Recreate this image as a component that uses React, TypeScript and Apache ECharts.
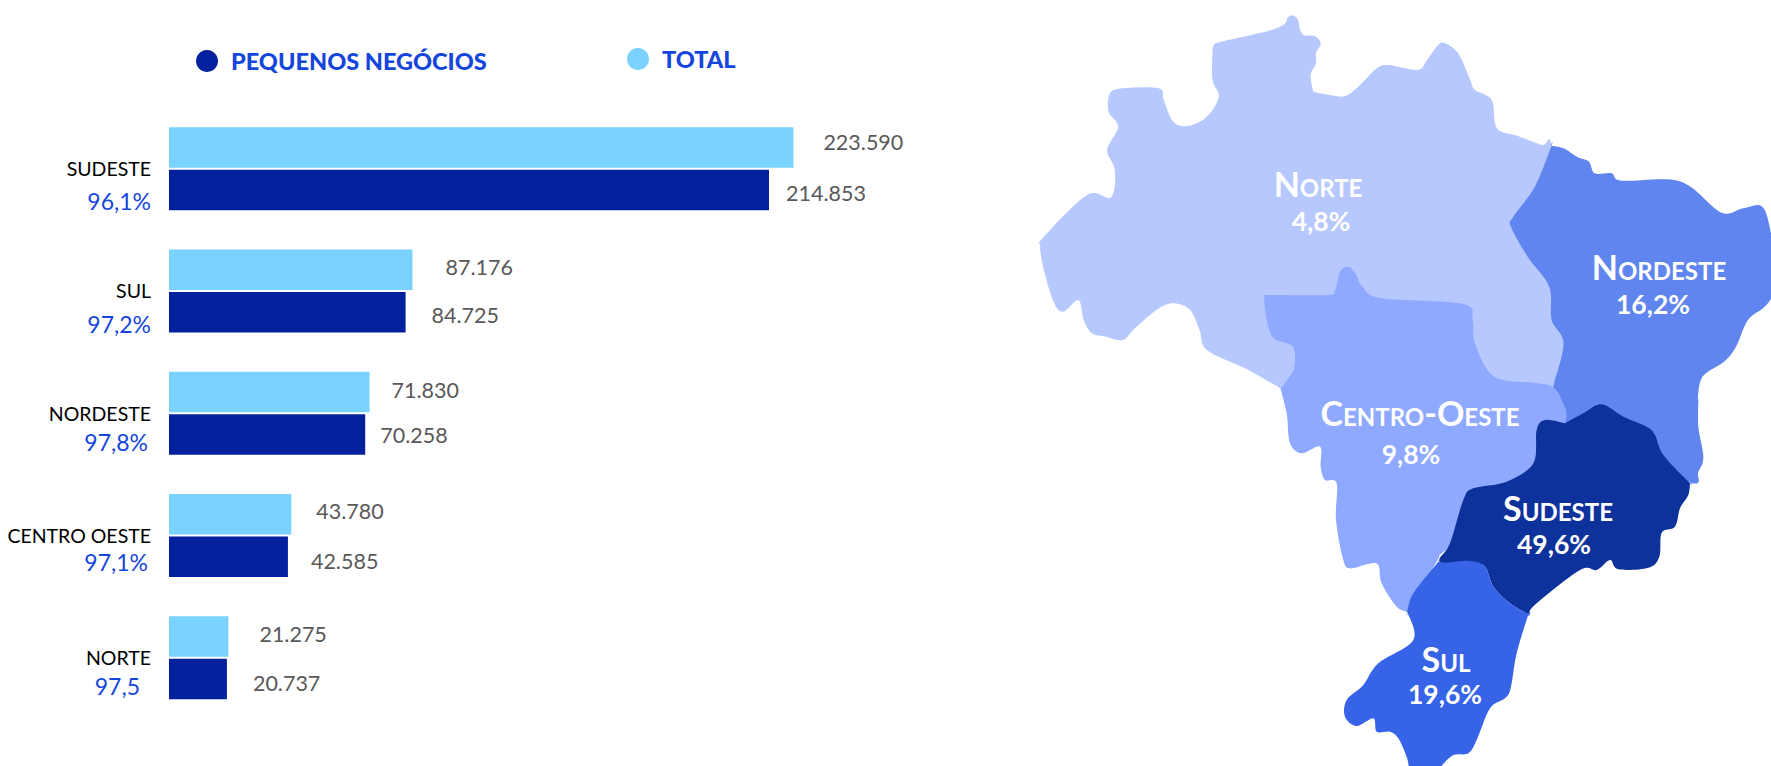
import React, { useEffect, useRef } from "react";
import * as echarts from "echarts";

const categories = ["SUDESTE", "SUL", "NORDESTE", "CENTRO OESTE", "NORTE"];
const totalValues = [223590, 87176, 71830, 43780, 21275];
const smallBusinessValues = [214853, 84725, 70258, 42585, 20737];
const shareLabels = ["96,1%", "97,2%", "97,8%", "97,1%", "97,5"];
const regionNames = ["Norte", "Nordeste", "Centro-Oeste", "Sudeste", "Sul"];
const regionShares = ["4,8%", "16,2%", "9,8%", "49,6%", "19,6%"];

// label placement
const totalLabelOffsets = [[30, -5], [33, -3], [22, -2], [25, -3], [31, -3]];
const smallLabelOffsets = [[17, 3], [26, 3], [15, 0], [23, 4], [26, 4]];
const sharePlacement = [[151, 32], [151, 33], [148, 29], [148, 26], [140, 28]];

const FONT = "Lato";
const C = { total: "#79D2FF", small: "#03219C", blue: "#1546DC", gray: "#595959" };

type P = [number, number];
const z3 = (a: number[]): P[] => {
  const o: P[] = [];
  for (let i = 0; i < a.length; i += 2) o.push([1020 + a[i] / 2.088, a[i + 1] / 3]);
  return o;
};
const z4 = (a: number[]): P[] => {
  const o: P[] = [];
  for (let i = 0; i < a.length; i += 2) o.push([1250 + a[i] / 3, 380 + a[i + 1] / 3]);
  return o;
};

const norteShape = z3([
  405,135, 420,125, 520,92, 552,72, 558,55, 568,46, 580,58, 584,85, 592,105, 615,108, 628,130, 618,160, 618,190, 607,225, 612,275, 612,275,
  650,286, 680,288, 710,255, 745,205, 770,195, 830,210, 850,180, 870,140, 885,128, 915,160, 940,240, 950,270, 985,300, 996,385, 1040,408, 1090,435, 1110,437,
  1130,700, 1140,1150, 1112,1165, 800,1170, 570,1175, 545,1165, 470,1105, 390,1050, 375,990, 355,930, 320,910, 285,930, 240,985, 215,1020, 180,1010, 150,1000, 133,960, 122,900,
  90,935, 70,905, 50,810, 42,740, 50,710, 140,585, 190,592, 198,510, 182,450, 205,380, 185,335, 188,280, 215,265, 290,265, 300,300, 320,365, 350,378, 390,350, 415,290, 402,240, 402,160,
]);

const nordesteShape = [
  ...z3([1110,437, 1110,437, 1135,445, 1165,472, 1188,485, 1200,520, 1235,520, 1255,542, 1350,538, 1400,560, 1465,638, 1510,625, 1550,620, 1568,700, 1575,800, 1572,880, 1555,920, 1520,960, 1495,1040, 1470,1085, 1425,1130, 1415,1200]),
  ...z4([1345,60, 1345,140, 1360,230, 1345,275, 1322,308, 1100,200, 900,100, 910,20]),
  ...z3([1135,1030, 1110,960, 1105,860, 1060,770, 1025,680, 1030,650, 1075,560]),
];

const centroOesteShape = [
  ...z3([515,885, 640,885, 658,870, 668,815, 685,800, 700,820, 715,860, 755,895, 925,912, 945,960, 950,1030, 990,1130, 1075,1148, 1112,1160]),
  ...z4([935,60, 945,130, 860,300, 600,500, 560,545, 475,695, 475,695, 440,680, 395,610, 385,555, 355,552, 300,565, 280,540, 258,420, 260,310, 225,300, 212,260, 210,200, 155,220, 120,190, 110,100, 90,20]),
  ...z3([545,1165, 565,1125, 573,1100, 570,1040, 530,1015, 515,960, 510,890]),
];

const sudesteShape = z4([
  945,130, 945,130, 1000,100, 1055,73, 1120,110, 1190,140, 1215,165, 1240,225, 1320,310, 1320,310, 1315,345, 1290,385, 1275,440, 1235,458, 1228,530, 1195,563, 1105,568, 1080,540, 1040,570, 990,570, 860,670, 835,703, 835,703,
  780,670, 730,620, 705,560, 660,550, 590,552, 568,538, 600,490, 640,360, 670,325, 770,305, 850,250, 860,150, 885,120,
]);

const sulShape = z4([
  565,545, 565,545, 590,548, 660,543, 705,560, 730,620, 780,670, 835,703, 835,703, 800,820, 782,925, 765,955, 720,985, 680,1080, 655,1120, 610,1125, 575,1158, 560,1190, 490,1190, 470,1130, 445,1075, 420,1055, 380,1055, 370,1015, 320,1038, 285,1010, 290,960, 340,915, 385,850, 490,780, 472,695, 472,695, 490,640,
]);

const regionShapes = [norteShape, nordesteShape, centroOesteShape, sudesteShape, sulShape];
const regionColors = ["#B7C8FF", "#6085EE", "#8EA9FF", "#0E329C", "#3763E6"];
const regionNamePos = [[1318, 183], [1659, 266], [1420, 412], [1558, 507.5], [1446, 658]];
const regionSharePos = [[1321, 221], [1653, 304], [1411, 454], [1554, 543.5], [1445, 694]];

function toPath(pts: P[]): string {
  const n = pts.length;
  const f = (v: number) => v.toFixed(2);
  let d = `M${f(pts[0][0])} ${f(pts[0][1])}`;
  for (let i = 0; i < n; i++) {
    const p0 = pts[(i - 1 + n) % n], p1 = pts[i], p2 = pts[(i + 1) % n], p3 = pts[(i + 2) % n];
    const c1x = p1[0] + (p2[0] - p0[0]) / 6, c1y = p1[1] + (p2[1] - p0[1]) / 6;
    const c2x = p2[0] - (p3[0] - p1[0]) / 6, c2y = p2[1] - (p3[1] - p1[1]) / 6;
    d += `C${f(c1x)} ${f(c1y)} ${f(c2x)} ${f(c2y)} ${f(p2[0])} ${f(p2[1])}`;
  }
  return d + "Z";
}

regionShapes.forEach((s, i) => {
  echarts.graphic.registerShape("region" + i, echarts.graphic.extendPath(toPath(s) as any, {}) as any);
});

const fmt = (v: number) => String(v).replace(/\B(?=(\d{3})+$)/g, ".");

export default function App() {
  const ref = useRef<HTMLDivElement>(null);
  useEffect(() => {
    const chart = echarts.init(ref.current!, undefined, { renderer: "svg" });
    const barLabel = { show: true, position: "right", distance: 0, color: C.gray, fontFamily: FONT, fontSize: 21.5, formatter: (p: any) => fmt(p.value) };
    const legendText = (pad: number) => ({ color: C.blue, fontFamily: FONT, fontWeight: 900, fontSize: 23.5, padding: [0, 0, 0, pad] });
    chart.setOption({
      animation: false,
      backgroundColor: "#fff",
      legend: [
        { data: ["PEQUENOS NEGÓCIOS"], left: 196, top: 49, icon: "circle", itemWidth: 22, itemHeight: 22, selectedMode: false, padding: [0, 0, 0, 0], textStyle: legendText(8) },
        { data: ["TOTAL"], left: 627, top: 47, icon: "circle", itemWidth: 22, itemHeight: 22, selectedMode: false, padding: [0, 0, 0, 0], textStyle: legendText(8) },
      ],
      grid: { left: 169, top: 107.5, width: 624.4, height: 611.5, containLabel: false },
      xAxis: { type: "value", min: 0, max: 223590, show: false },
      yAxis: {
        type: "category",
        inverse: true,
        data: categories,
        axisLine: { show: false },
        axisTick: { show: false },
        axisLabel: { color: "#000", fontFamily: FONT, fontSize: 19.5, margin: 18 },
      },
      series: [
        {
          name: "TOTAL",
          type: "bar",
          barWidth: 40.5,
          barGap: "5%",
          itemStyle: { color: C.total },
          label: barLabel,
          data: totalValues.map((value, i) => ({ value, label: { offset: totalLabelOffsets[i] } })),
        },
        {
          name: "PEQUENOS NEGÓCIOS",
          type: "bar",
          barWidth: 40.5,
          barGap: "5%",
          itemStyle: { color: C.small },
          label: barLabel,
          data: smallBusinessValues.map((value, i) => ({ value, label: { offset: smallLabelOffsets[i] } })),
        },
        {
          type: "custom",
          silent: true,
          encode: { x: 0, y: 1 },
          data: shareLabels.map((_, i) => [0, i]),
          renderItem: (params: any, api: any) => {
            const i = params.dataIndex;
            const c = api.coord([0, i]);
            return {
              type: "text",
              x: sharePlacement[i][0],
              y: c[1] + sharePlacement[i][1],
              style: { text: shareLabels[i], fill: C.blue, fontFamily: FONT, fontSize: 23, align: "right", verticalAlign: "middle" },
            };
          },
        },
      ],
      graphic: [
        ...regionShapes.map((_, i) => ({ type: "region" + i, x: 0, y: 0, silent: true, style: { fill: regionColors[i] } })),
        ...regionNames.map((t, i) => ({
          type: "text", x: regionNamePos[i][0], y: regionNamePos[i][1], silent: true,
          style: { text: t, fill: "#fff", font: `small-caps 700 34px ${FONT}`, align: "center", verticalAlign: "middle" },
        })),
        ...regionShares.map((t, i) => ({
          type: "text", x: regionSharePos[i][0], y: regionSharePos[i][1], silent: true,
          style: { text: t, fill: "#fff", fontFamily: FONT, fontWeight: 700, fontSize: 26.5, align: "center", verticalAlign: "middle" },
        })),
      ],
    });
    return () => chart.dispose();
  }, []);
  return <div ref={ref} style={{ position: "fixed", left: 0, top: 0, width: 1771, height: 766 }} />;
}
